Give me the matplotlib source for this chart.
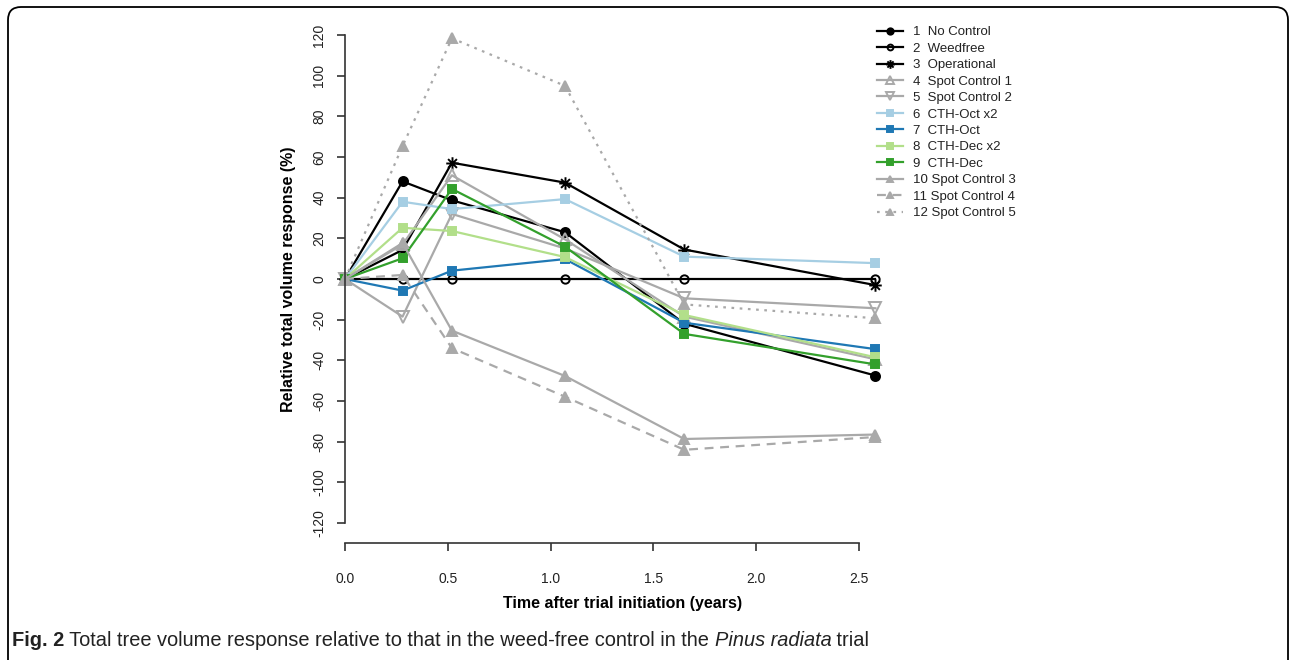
import matplotlib
matplotlib.use('Agg')
import matplotlib.pyplot as plt
import matplotlib.path as mpath
from matplotlib.patches import FancyBboxPatch

plt.rcParams['font.family'] = ['Liberation Sans', 'DejaVu Sans']
plt.rcParams['axes.unicode_minus'] = False

# 測定時期 (年)
years = [0, 0.28, 0.52, 1.07, 1.65, 2.58]

# 各処理の相対材積反応 (%)
no_control = [0, 48, 38.7, 23, -22, -47.5]
weedfree = [0, 0, 0, 0, 0, 0]
operational = [0, 14.3, 57.2, 47.4, 14.5, -3]
spot1 = [0, 17, 51, 19.5, -18.5, -39.5]
spot2 = [0, -18.5, 32, 15, -9.5, -14.4]
cth_oct2 = [0, 38, 34.4, 39.3, 11, 7.8]
cth_oct = [0, -5.7, 4.1, 9.8, -21.5, -34.5]
cth_dec2 = [0, 25.2, 23.6, 10.8, -17.7, -38.5]
cth_dec = [0, 10.2, 44.3, 15.9, -27, -42]
spot3 = [0, 17.7, -25.4, -47.7, -78.7, -76.5]
spot4 = [0, 2, -34, -57.9, -84, -77.7]
spot5 = [0, 65.4, 118.4, 95, -12.5, -19.3]

labels = ['1  No Control', '2  Weedfree', '3  Operational', '4  Spot Control 1',
          '5  Spot Control 2', '6  CTH-Oct x2', '7  CTH-Oct', '8  CTH-Dec x2',
          '9  CTH-Dec', '10 Spot Control 3', '11 Spot Control 4', '12 Spot Control 5']

# R の pch=8 風のアスタリスク
d = 0.7071
star = mpath.Path([(-1, 0), (1, 0), (0, -1), (0, 1), (-d, -d), (d, d), (-d, d), (d, -d)],
                  [mpath.Path.MOVETO, mpath.Path.LINETO] * 4)

grey = '#a9a9a9'
styles = [
    (no_control, 'black', 'o', '-', 6.5, 'black'),
    (weedfree, 'black', 'o', '-', 6, 'none'),
    (operational, 'black', star, '-', 9, 'none'),
    (spot1, grey, '^', '-', 8, 'none'),
    (spot2, grey, 'v', '-', 8, 'none'),
    (cth_oct2, '#a6cee3', 's', '-', 6, '#a6cee3'),
    (cth_oct, '#1f78b4', 's', '-', 6, '#1f78b4'),
    (cth_dec2, '#b2df8a', 's', '-', 6, '#b2df8a'),
    (cth_dec, '#33a02c', 's', '-', 6, '#33a02c'),
    (spot3, grey, '^', '-', 7, grey),
    (spot4, grey, '^', (0, (4, 3)), 7, grey),
    (spot5, grey, '^', (0, (1.2, 2.5)), 7, grey),
]

fig = plt.figure(figsize=(12.92, 6.6), dpi=100)
W, H = 1292, 660
# 軸の位置 (ピクセル)
x0, x1 = 345, 345 + 2.7 * 205.6
ytop, ybot = 15.5, 542.5
ax = fig.add_axes([x0 / W, (H - ybot) / H, (x1 - x0) / W, (ybot - ytop) / H])

for (vals, col, mk, ls, ms, mfc), lab in zip(styles, labels):
    ax.plot(years, vals, color=col, marker=mk, linestyle=ls, linewidth=1.6,
            markersize=ms, markerfacecolor=mfc, markeredgecolor=col,
            markeredgewidth=1.4, label=lab, clip_on=False)

ax.set_xlim(0, 2.7)
ax.set_ylim(-129.6, 129.6)
ax.set_xticks([0, 0.5, 1.0, 1.5, 2.0, 2.5])
ax.set_xticklabels(['0.0', '0.5', '1.0', '1.5', '2.0', '2.5'])
ax.set_yticks(range(-120, 121, 20))
for s in ['top', 'right']:
    ax.spines[s].set_visible(False)
ax.spines['left'].set_bounds(-120, 120)
ax.spines['bottom'].set_bounds(0, 2.5)
for s in ['left', 'bottom']:
    ax.spines[s].set_color('#333333')
    ax.spines[s].set_linewidth(1.2)
ax.tick_params(direction='out', length=5.5, width=1.2, color='#333333',
               labelsize=10, labelcolor='#222222')
ax.tick_params(axis='x', pad=16)
ax.tick_params(axis='y', pad=8)
for t in ax.get_yticklabels():
    t.set_rotation(90)
    t.set_va('center')

ax.set_xlabel('Time after trial initiation (years)', fontsize=11.5,
              fontweight='bold', labelpad=7)
ax.set_ylabel('Relative total volume response (%)', fontsize=11.5,
              fontweight='bold', labelpad=12)

leg = ax.legend(loc='upper left', bbox_to_anchor=(877 / W, (H - 26) / H),
                bbox_transform=fig.transFigure, frameon=False, fontsize=9.5,
                handlelength=2.0, handletextpad=0.75, labelspacing=0.32,
                borderpad=0, borderaxespad=0, markerscale=0.7)
for t in leg.get_texts():
    t.set_color('#222222')

# 外枠
frame = FancyBboxPatch((0.08, -0.5), 12.8, 7.03,
                       boxstyle='round,pad=0,rounding_size=0.13',
                       transform=fig.dpi_scale_trans, fill=False,
                       edgecolor='black', linewidth=1.3, clip_on=False)
fig.patches.append(frame)

# キャプション
cap = ['Liberation Sans', 'DejaVu Sans']
t1 = fig.text(12 / W, 14 / H, 'Fig. 2', fontsize=14.4, fontweight='bold',
              family=cap, color='#222222')
t2 = fig.text(0, 0, ' Total tree volume response relative to that in the weed-free control in the ',
              fontsize=14.4, family=cap, color='#222222')
t3 = fig.text(0, 0, 'Pinus radiata', fontsize=14.4, style='italic', family=cap, color='#222222')
t4 = fig.text(0, 0, ' trial', fontsize=14.4, family=cap, color='#222222')

fig.canvas.draw()
r = fig.canvas.get_renderer()
prev = t1
for t in (t2, t3, t4):
    bb = prev.get_window_extent(r)
    t.set_position((bb.x1 / W, 14 / H))
    prev = t
    fig.canvas.draw()

fig.savefig('out.png', dpi=100)
